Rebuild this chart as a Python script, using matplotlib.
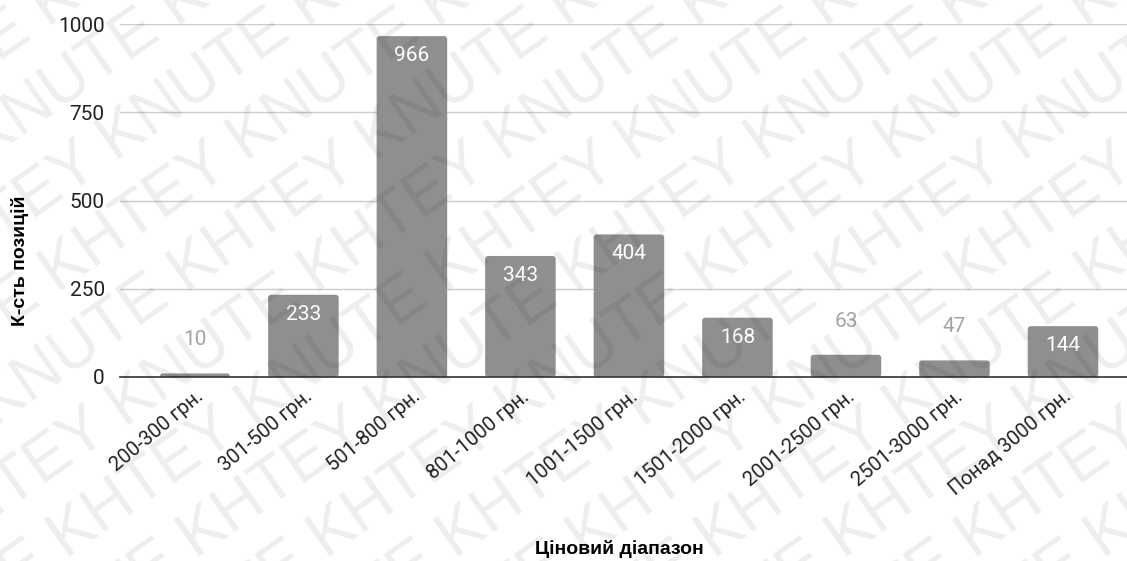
import matplotlib
matplotlib.use("Agg")
import matplotlib.pyplot as plt
from matplotlib.patches import FancyBboxPatch
import numpy as np

categories = ["200-300 грн.", "301-500 грн.", "501-800 грн.", "801-1000 грн.",
              "1001-1500 грн.", "1501-2000 грн.", "2001-2500 грн.",
              "2501-3000 грн.", "Понад 3000 грн."]
counts = [10, 233, 966, 343, 404, 168, 63, 47, 144]
y_ticks = [0, 250, 500, 750, 1000]
x_title = "Ціновий діапазон"
y_title = "К-сть позицій"

plt.rcParams["font.family"] = ["Roboto", "DejaVu Sans"]

fig = plt.figure(figsize=(11.27, 5.61), dpi=100)
ax = fig.add_axes([0.1065, 0.328, 0.8935, 0.629])

bar_color = "#8f8f8f"
x = np.arange(len(categories))
bars = ax.bar(x, counts, width=0.65, color=bar_color, zorder=3)

ax.set_xlim(-0.69, 8.59)
ax.set_ylim(0, 1000)

# rounded-top bars
x_per_px = (8.59 + 0.69) / (0.8935 * 1127)
y_per_px = 1000 / (0.629 * 561)
for b in bars:
    b.set_visible(False)
    p = FancyBboxPatch((b.get_x(), 0), b.get_width(), b.get_height(),
                       boxstyle="round,pad=0,rounding_size=%f" % (3 * x_per_px),
                       mutation_aspect=y_per_px / x_per_px,
                       facecolor=bar_color, edgecolor="none", zorder=3)
    ax.add_patch(p)

# value labels
for xi, v in zip(x, counts):
    if v > 120:
        ax.text(xi, v - 10 * y_per_px, str(v), ha="center", va="top",
                color="white", fontsize=15, zorder=5)
    else:
        ax.text(xi, v + 24 * y_per_px, str(v), ha="center", va="bottom",
                color="#a3a3a3", fontsize=15, zorder=5)

ax.set_yticks(y_ticks)
ax.set_yticklabels([str(t) for t in y_ticks], fontsize=15, color="#222222")
ax.yaxis.grid(True, color="#cccccc", linewidth=1.0, zorder=0)
ax.tick_params(axis="y", length=0, pad=11)
ax.tick_params(axis="x", length=0, pad=7)

ax.set_xticks(x)
ax.set_xticklabels(categories, rotation=40, ha="right", rotation_mode="anchor",
                   fontsize=14.5, color="#222222")

for s in ["top", "right", "left"]:
    ax.spines[s].set_visible(False)
ax.spines["bottom"].set_color("#333333")
ax.spines["bottom"].set_linewidth(1.2)
ax.spines["bottom"].set_zorder(4)

fig.text(0.55, 0.025, x_title, ha="center", va="center_baseline", fontsize=14,
         fontweight="bold", family=["Liberation Sans", "DejaVu Sans"])
fig.text(0.018, 0.535, y_title, ha="center", va="center", rotation=90,
         fontsize=14, fontweight="bold", family=["Liberation Sans", "DejaVu Sans"])

# diagonal watermark pattern on a transparent overlay, clipped to the figure
wm = fig.add_axes([0, 0, 1, 1], zorder=10)
wm.set_axis_off()
wm.patch.set_alpha(0)
wm.set_xlim(0, 1)
wm.set_ylim(0, 1)
line = "KNUTE KHTEY " * 7
for k in range(-10, 12):
    wm.text(0.5 + k * 0.115, 0.5, line, rotation=35, fontsize=46,
            color="black", alpha=0.07, ha="center", va="center",
            family=["Liberation Sans", "DejaVu Sans"], clip_on=True)

fig.savefig("out.png", dpi=100)
